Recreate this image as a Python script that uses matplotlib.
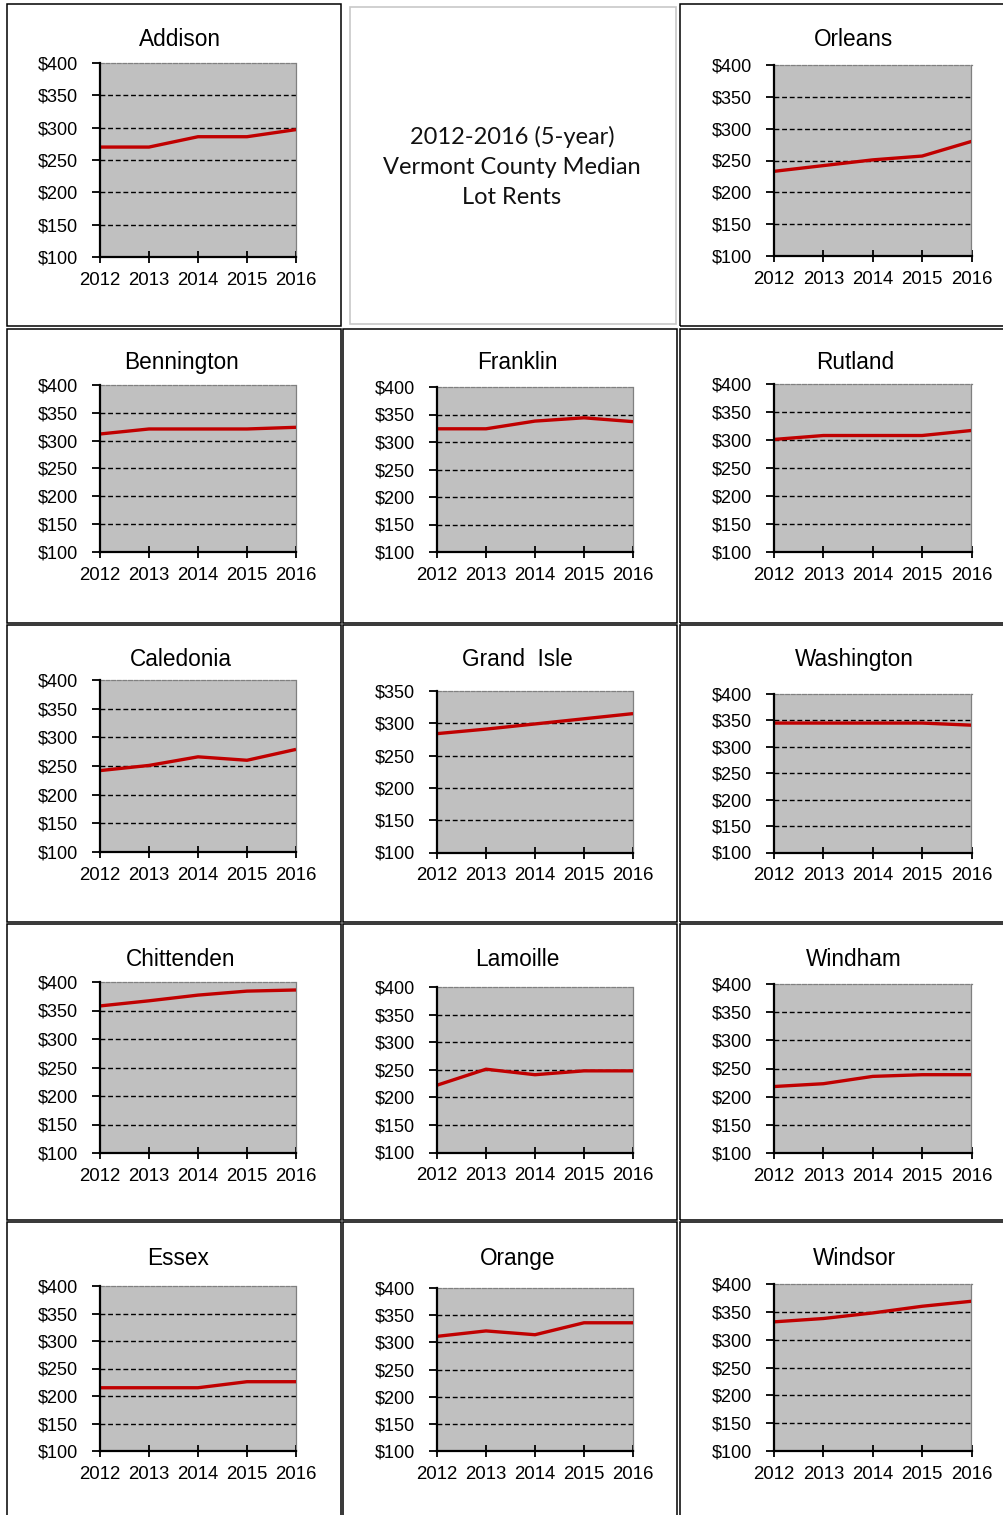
import matplotlib
matplotlib.use("Agg")
import matplotlib.pyplot as plt
from matplotlib.patches import Rectangle
from matplotlib.ticker import FuncFormatter, MultipleLocator

W, H = 1004, 1515

years = [2012, 2013, 2014, 2015, 2016]

# Median lot rent by county, dollars per month
addison = [270, 270, 286, 286, 297]
orleans = [233, 242, 251, 257, 280]
bennington = [312, 321, 321, 321, 324]
franklin = [324, 324, 338, 344, 337]
rutland = [301, 308, 308, 308, 317]
caledonia = [242, 251, 266, 260, 279]
grand_isle = [284, 291, 299, 307, 315]
washington = [345, 345, 345, 345, 341]
chittenden = [358, 367, 377, 384, 386]
lamoille = [222, 251, 241, 248, 248]
windham = [218, 223, 236, 239, 239]
essex = [215, 215, 215, 226, 226]
orange = [311, 321, 314, 336, 336]
windsor = [332, 338, 348, 360, 369]

county_names = ["Addison", "Orleans", "Bennington", "Franklin", "Rutland",
                "Caledonia", "Grand  Isle", "Washington", "Chittenden",
                "Lamoille", "Windham", "Essex", "Orange", "Windsor"]
county_values = [addison, orleans, bennington, franklin, rutland,
                 caledonia, grand_isle, washington, chittenden,
                 lamoille, windham, essex, orange, windsor]
y_tops = [400, 400, 400, 400, 400, 400, 350, 400, 400, 400, 400, 400, 400, 400]
y_bottom = 100

# plot-area boxes in pixels: left, top, right, bottom; title centre x, y
plot_boxes = [
    (100, 63, 296, 257, 180, 37),
    (774, 65, 971.5, 256, 854, 37),
    (100, 385, 296, 552, 181, 360),
    (437, 387, 633, 552, 517, 360),
    (774, 384, 971.5, 552, 855, 360),
    (100, 680, 296, 852, 181, 657),
    (437, 691, 633, 852.5, 517, 657),
    (774, 694, 971.5, 852.5, 854, 657),
    (100, 982, 296, 1153, 181, 957),
    (437, 987, 633, 1152.5, 517, 957),
    (774, 984, 971.5, 1153, 854, 957),
    (100, 1286, 296, 1451, 178, 1256),
    (437, 1288, 633, 1451, 518, 1256),
    (774, 1284, 971.5, 1451, 854, 1256),
]

# cell frames in pixels: left, top, right, bottom
col_x = [(7, 341.5), (343.5, 677.5), (680.5, 1012)]
row_y = [(4, 326), (328.5, 623), (625, 921.5), (924, 1220), (1222, 1525)]

fig = plt.figure(figsize=(W / 100, H / 100), dpi=100)
fig.patch.set_facecolor("white")


def fig_rect(l, t, r, b):
    return [l / W, 1 - b / H, (r - l) / W, (b - t) / H]


for ri, (t, b) in enumerate(row_y):
    for ci, (l, r) in enumerate(col_x):
        if ri == 0 and ci == 1:
            continue
        fig.add_artist(Rectangle((l / W, 1 - b / H), (r - l) / W, (b - t) / H,
                                 transform=fig.transFigure, fill=False,
                                 edgecolor="black", linewidth=1.1, zorder=5))

# heading cell
fig.add_artist(Rectangle((350 / W, 1 - 324 / H), (676 - 350) / W, (324 - 7) / H,
                         transform=fig.transFigure, fill=False,
                         edgecolor="#c8c8c8", linewidth=1.2, zorder=5))
fig.text(512 / W, 1 - 167 / H,
         "2012-2016 (5-year)\nVermont County Median\nLot Rents",
         ha="center", va="center", fontsize=17, family="Lato",
         linespacing=1.52, color="#111111")

money = FuncFormatter(lambda v, p: f"${int(v)}")

for name, vals, ytop, box in zip(county_names, county_values, y_tops, plot_boxes):
    l, t, r, b, tx, ty = box
    ax = fig.add_axes(fig_rect(l, t, r, b))
    ax.set_facecolor("#c0c0c0")
    ax.plot(years, vals, color="#c00000", linewidth=2.4, solid_capstyle="butt",
            zorder=4)
    ax.set_xlim(years[0], years[-1])
    ax.set_ylim(y_bottom, ytop)
    ax.set_xticks(years)
    ax.yaxis.set_major_locator(MultipleLocator(50))
    ax.yaxis.set_major_formatter(money)
    for g in range(y_bottom + 50, ytop, 50):
        ax.axhline(g, color="black", linewidth=1.0, linestyle=(0, (3.5, 2)),
                   zorder=2)
    for s in ("left", "bottom"):
        ax.spines[s].set_color("black")
        ax.spines[s].set_linewidth(1.6)
        ax.spines[s].set_zorder(6)
    ax.spines["right"].set_color("#808080")
    ax.spines["right"].set_linewidth(0.9)
    ax.spines["top"].set_color("#808080")
    ax.spines["top"].set_linewidth(0.9)
    ax.spines["top"].set_linestyle((0, (3, 1.5)))
    ax.tick_params(axis="y", direction="out", length=6, width=1.3,
                   labelsize=13, pad=10, colors="black",
                   labelfontfamily="Liberation Sans")
    ax.tick_params(axis="x", direction="inout", length=9, width=1.3,
                   labelsize=13.4, pad=6, colors="black",
                   labelfontfamily="Liberation Sans")
    fig.text(tx / W, 1 - (ty + 2.5) / H, name, ha="center", va="center",
             fontsize=16.3, family="Liberation Sans", color="black")

fig.savefig("out.png", dpi=100, facecolor="white")
